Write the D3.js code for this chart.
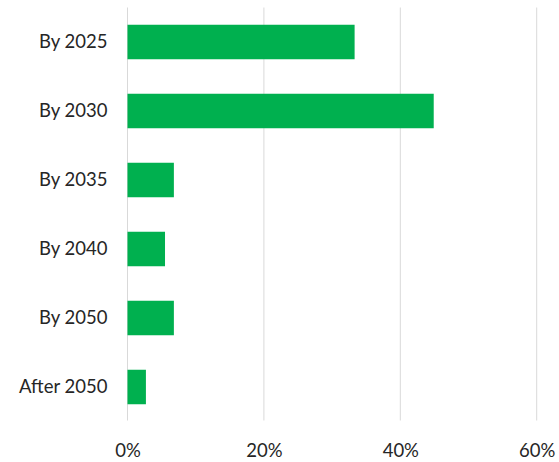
<!DOCTYPE html>
<html>
<head>
<meta charset="utf-8">
<script src="https://cdn.jsdelivr.net/npm/d3@7"></script>
<style>
  body { margin: 0; background: #fff; }
  text { font-family: Lato, "Noto Sans", sans-serif; fill: #262626; }
</style>
</head>
<body>
<svg width="559" height="462"></svg>
<script>
var categories = ["By 2025", "By 2030", "By 2035", "By 2040", "By 2050", "After 2050"];
var shares = [33.3, 44.9, 6.8, 5.5, 6.8, 2.7];
var ticks = [0, 20, 40, 60];

var svg = d3.select("svg"),
    margin = {top: 7.5, right: 22, bottom: 40, left: 127.5},
    width = svg.attr("width") - margin.left - margin.right,
    height = 414,
    g = svg.append("g").attr("transform", "translate(" + margin.left + "," + margin.top + ")");

var x = d3.scaleLinear()
    .domain([0, 60])
    .range([0, 409.2]);

var y = d3.scaleBand()
    .domain(categories)
    .range([0, height])
    .paddingInner(0.5)
    .paddingOuter(0.25);

// gridlines
g.append("g")
  .selectAll("line")
  .data(ticks)
  .enter().append("line")
    .attr("x1", function(d) { return x(d); })
    .attr("x2", function(d) { return x(d); })
    .attr("y1", 0)
    .attr("y2", 413)
    .attr("stroke", "#d9d9d9")
    .attr("stroke-width", 1);

g.append("g")
  .selectAll("rect")
  .data(shares)
  .enter().append("rect")
    .attr("x", x(0))
    .attr("y", function(d, i) { return y(categories[i]); })
    .attr("width", function(d) { return x(d) - x(0); })
    .attr("height", y.bandwidth())
    .attr("fill", "#00b04f");

// category labels
var yAxis = g.append("g")
    .call(d3.axisLeft(y).tickSize(0).tickPadding(20));
yAxis.select(".domain").remove();
yAxis.selectAll("text")
    .attr("font-size", 18.5)
    .style("font-family", "Lato, 'Noto Sans', sans-serif")
    .attr("fill", "#262626");

// percent labels
var xAxis = g.append("g")
    .attr("transform", "translate(0," + 413 + ")")
    .call(d3.axisBottom(x).tickValues(ticks).tickSize(0)
      .tickFormat(function(d) { return d + "%"; }));
xAxis.select(".domain").remove();
xAxis.selectAll("text")
    .attr("y", 36.5)
    .attr("dy", 0)
    .attr("font-size", 18.5)
    .style("font-family", "Lato, 'Noto Sans', sans-serif")
    .attr("fill", "#262626");
</script>
</body>
</html>
